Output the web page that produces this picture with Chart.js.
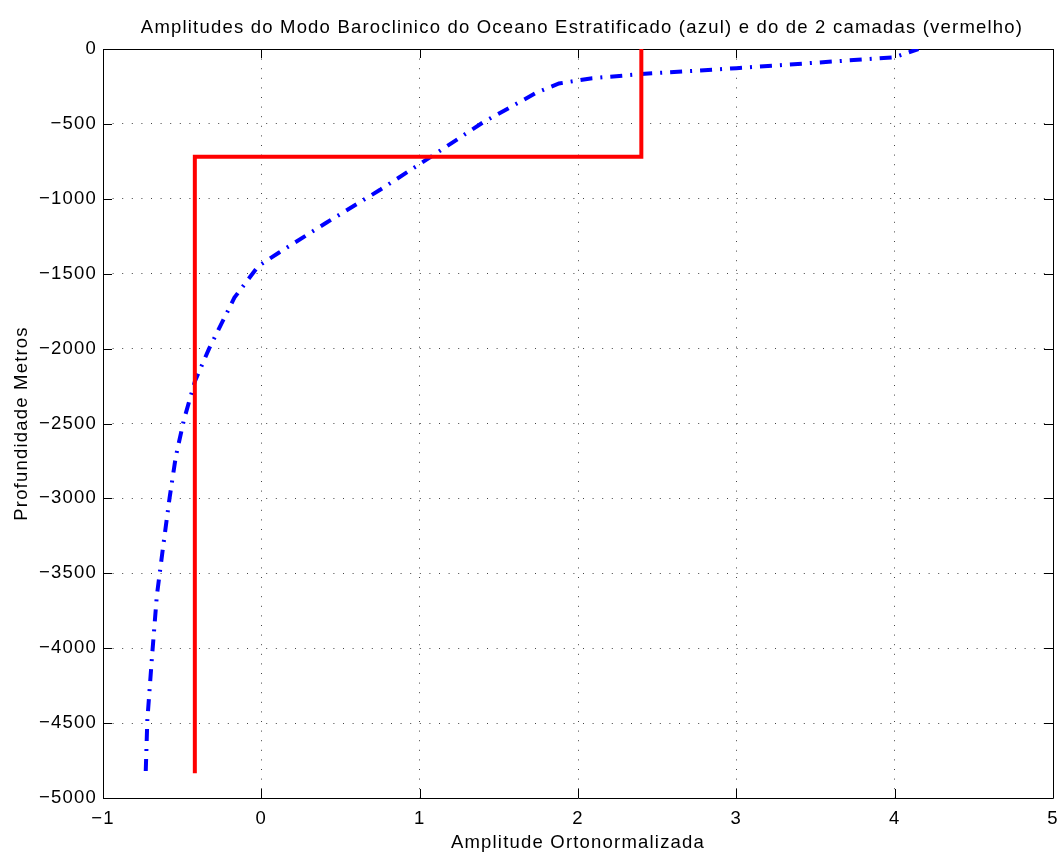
<!DOCTYPE html>
<html>
<head>
<meta charset="utf-8">
<title>Amplitudes do Modo Baroclinico</title>
<script src="https://cdn.jsdelivr.net/npm/chart.js@4/dist/chart.umd.min.js"></script>
<style>
  html, body { margin: 0; padding: 0; background: #fff; }
  #box { width: 1061px; height: 855px; }
</style>
</head>
<body>
<div id="box"><canvas id="perfil"></canvas></div>
<script>
// modo baroclinico - oceano estratificado (azul)
const blueAmp = [-0.73, -0.72, -0.69, -0.66, -0.62, -0.58, -0.54, -0.49, -0.42, -0.33, -0.17, -0.02, 0.11,
                 0.41, 0.75, 1.07, 1.40, 1.57, 1.74, 1.88, 2.09, 2.40, 3.00, 4.00, 4.15];
const blueDepth = [-4820, -4480, -4050, -3650, -3320, -3000, -2720, -2480, -2220, -2000, -1660, -1450, -1360,
                   -1160, -940, -720, -490, -390, -290, -230, -195, -167, -128, -55, 0];

// modelo de 2 camadas (vermelho)
const redAmp = [2.4, 2.4, -0.42, -0.42];
const redDepth = [0, -720, -720, -4835];

// eixos
const xTicks = [-1, 0, 1, 2, 3, 4, 5];
const yTicks = [0, -500, -1000, -1500, -2000, -2500, -3000, -3500, -4000, -4500, -5000];

const titulo = 'Amplitudes do Modo Baroclinico do Oceano Estratificado (azul) e do de 2 camadas (vermelho)';
const xLabel = 'Amplitude Ortonormalizada';
const yLabel = 'Profundidade Metros';

const FONTE = '"Liberation Sans", Arial, Helvetica, sans-serif';
const ESPACO = '1.2px';

function pares(xs, ys) {
    return xs.map((x, i) => ({ x: x, y: ys[i] }));
}

function menos(v) {
    return String(v).replace('-', '\u2212');
}

// moldura com ticks para dentro + titulo (estilo matlab)
const moldura = {
    id: 'moldura',
    beforeDraw(chart) {
        chart.ctx.letterSpacing = ESPACO;
    },
    beforeDatasetsDraw(chart) {
        const ctx = chart.ctx;
        const a = chart.chartArea;
        const sx = chart.scales.x, sy = chart.scales.y;
        const len = 9;
        ctx.save();
        ctx.strokeStyle = '#000';
        ctx.lineWidth = 1;
        ctx.beginPath();
        ctx.rect(Math.round(a.left) + 0.5, Math.round(a.top) + 0.5,
                 Math.round(a.right - a.left), Math.round(a.bottom - a.top));
        sx.ticks.forEach(t => {
            const px = Math.round(sx.getPixelForValue(t.value)) + 0.5;
            ctx.moveTo(px, a.bottom); ctx.lineTo(px, a.bottom - len);
            ctx.moveTo(px, a.top); ctx.lineTo(px, a.top + len);
        });
        sy.ticks.forEach(t => {
            const py = Math.round(sy.getPixelForValue(t.value)) + 0.5;
            ctx.moveTo(a.left, py); ctx.lineTo(a.left + len, py);
            ctx.moveTo(a.right, py); ctx.lineTo(a.right - len, py);
        });
        ctx.stroke();
        ctx.restore();
    },
    afterDraw(chart) {
        const ctx = chart.ctx;
        const a = chart.chartArea;
        ctx.save();
        ctx.fillStyle = '#000';
        ctx.font = '18.5px ' + FONTE;
        ctx.textAlign = 'center';
        ctx.textBaseline = 'alphabetic';
        ctx.fillText(titulo, (a.left + a.right) / 2 + 4, 33);
        ctx.restore();
        ctx.letterSpacing = '0px';
    }
};

const ctx = document.getElementById('perfil').getContext('2d');
new Chart(ctx, {
    type: 'scatter',
    data: {
        datasets: [{
            label: '2 camadas',
            data: pares(redAmp, redDepth),
            showLine: true,
            borderColor: '#ff0000',
            borderWidth: 4,
            pointRadius: 0,
            tension: 0,
            borderCapStyle: 'butt',
            borderJoinStyle: 'miter'
        }, {
            label: 'estratificado',
            data: pares(blueAmp, blueDepth),
            showLine: true,
            borderColor: '#0000ff',
            borderWidth: 4,
            borderDash: [12, 8, 2, 8],
            pointRadius: 0,
            tension: 0,
            borderCapStyle: 'butt'
        }]
    },
    options: {
        responsive: true,
        maintainAspectRatio: false,
        animation: false,
        devicePixelRatio: 1,
        layout: { padding: { top: 49, right: 8, left: 0, bottom: 0 } },
        plugins: {
            legend: { display: false },
            tooltip: { enabled: false },
            title: { display: false }
        },
        scales: {
            x: {
                type: 'linear',
                min: -1,
                max: 5,
                afterBuildTicks: s => { s.ticks = xTicks.map(v => ({ value: v })); },
                afterFit: s => { s.height = 57; s.paddingLeft = 0; s.paddingRight = 0; },
                grid: { color: '#444', lineWidth: 1, drawTicks: false },
                border: { display: false, dash: [1, 8.6] },
                ticks: {
                    color: '#000',
                    padding: 10,
                    maxRotation: 0,
                    font: { family: FONTE, size: 18.5 },
                    callback: v => menos(v)
                },
                title: {
                    display: true,
                    text: xLabel,
                    color: '#000',
                    font: { family: FONTE, size: 18.5 },
                    padding: { top: 0, bottom: 1 }
                }
            },
            y: {
                type: 'linear',
                min: -5000,
                max: 0,
                afterBuildTicks: s => { s.ticks = yTicks.map(v => ({ value: v })); },
                afterFit: s => { s.width = 103; s.paddingTop = 0; s.paddingBottom = 0; },
                grid: { color: '#444', lineWidth: 1, drawTicks: false },
                border: { display: false, dash: [1, 8.6] },
                ticks: {
                    color: '#000',
                    padding: 6,
                    font: { family: FONTE, size: 18.5 },
                    callback: v => menos(v)
                },
                title: {
                    display: true,
                    text: yLabel,
                    color: '#000',
                    font: { family: FONTE, size: 18.5 },
                    padding: { top: 11, bottom: 0 }
                }
            }
        }
    },
    plugins: [moldura]
});
</script>
</body>
</html>
